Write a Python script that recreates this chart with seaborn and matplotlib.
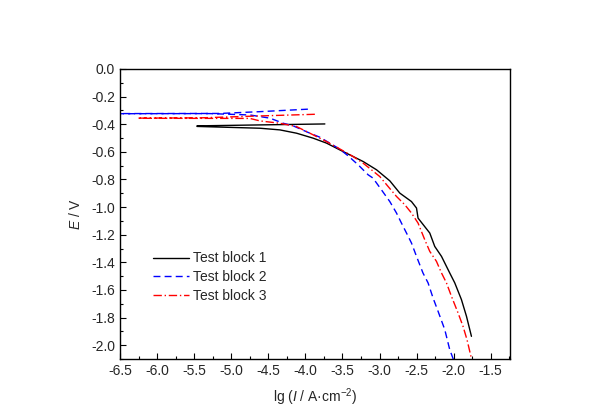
import numpy as np
import pandas as pd
import matplotlib
matplotlib.use("Agg")
import matplotlib.pyplot as plt
import seaborn as sns
from matplotlib.ticker import MultipleLocator

# Test block 1 (anodic branch right->left, then cathodic branch left->right)
tb1_x = [-3.737, -4.613, -5.462, -5.462, -4.613, -4.344, -4.119, -3.895, -3.714, -3.535,
         -3.400, -3.221, -3.040, -2.861, -2.726, -2.569, -2.501, -2.480, -2.322, -2.255,
         -2.164, -2.053, -1.985, -1.895, -1.827, -1.760]
tb1_y = [-0.398, -0.405, -0.412, -0.416, -0.429, -0.441, -0.465, -0.501, -0.537, -0.586,
         -0.622, -0.670, -0.730, -0.810, -0.899, -0.960, -1.007, -1.080, -1.188, -1.285,
         -1.357, -1.477, -1.549, -1.670, -1.791, -1.936]

# Test block 2
tb2_x = [-3.966, -4.613, -5.152, -6.600, -6.600, -5.287, -4.748, -4.478, -4.299, -4.164,
         -3.939, -3.805, -3.670, -3.535, -3.423, -3.288, -3.154, -3.088, -2.974, -2.861,
         -2.771, -2.704, -2.636, -2.569, -2.501, -2.414, -2.345, -2.278, -2.210, -2.120,
         -2.053, -2.008, -1.990]
tb2_y = [-0.291, -0.309, -0.322, -0.323, -0.324, -0.323, -0.333, -0.356, -0.393, -0.412,
         -0.465, -0.494, -0.537, -0.581, -0.629, -0.694, -0.766, -0.790, -0.875, -0.960,
         -1.043, -1.116, -1.188, -1.260, -1.357, -1.477, -1.549, -1.658, -1.755, -1.887,
         -2.032, -2.097, -2.120]

# Test block 3
tb3_x = [-3.872, -4.613, -5.422, -6.261, -6.261, -4.748, -4.613, -4.344, -4.119, -3.939,
         -3.714, -3.512, -3.356, -3.221, -3.109, -2.996, -2.884, -2.771, -2.659, -2.569,
         -2.480, -2.390, -2.322, -2.232, -2.164, -2.097, -2.030, -1.941, -1.874, -1.820,
         -1.760, -1.755]
tb3_y = [-0.328, -0.340, -0.354, -0.356, -0.357, -0.358, -0.376, -0.393, -0.417, -0.465,
         -0.526, -0.586, -0.634, -0.682, -0.730, -0.779, -0.851, -0.923, -0.983, -1.043,
         -1.116, -1.236, -1.321, -1.393, -1.477, -1.549, -1.646, -1.766, -1.863, -1.960,
         -2.097, -2.120]

labels = ["Test block 1", "Test block 2", "Test block 3"]
colors = ["black", "blue", "red"]
styles = ["-", (0, (5, 3)), (0, (6, 2, 1, 2))]

sns.set_theme(style="ticks")
plt.rcParams["font.family"] = ["Liberation Sans", "DejaVu Sans"]
plt.rcParams["mathtext.fontset"] = "custom"
plt.rcParams["mathtext.rm"] = "Liberation Sans"
plt.rcParams["mathtext.it"] = "Liberation Sans:italic"
plt.rcParams["axes.unicode_minus"] = False

fig = plt.figure(figsize=(6.0, 4.07), dpi=100)
ax = fig.add_axes([0.2, 0.118, 0.65, 0.7125])

for xs, ys, lab, c, ls in zip([tb1_x, tb2_x, tb3_x], [tb1_y, tb2_y, tb3_y], labels, colors, styles):
    df = pd.DataFrame({"x": xs, "y": ys, "i": np.arange(len(xs))})
    sns.lineplot(data=df, x="x", y="y", sort=False, estimator=None, ax=ax,
                 color=c, linestyle=ls, linewidth=1.0, label=lab)

ax.set_xlim(-6.5, -1.24)
ax.set_ylim(-2.1, 0.0)
ax.xaxis.set_major_locator(MultipleLocator(0.5))
ax.xaxis.set_minor_locator(MultipleLocator(0.25))
ax.yaxis.set_major_locator(MultipleLocator(0.2))
ax.yaxis.set_minor_locator(MultipleLocator(0.1))
ax.xaxis.set_major_formatter(matplotlib.ticker.FormatStrFormatter("%.1f"))
ax.yaxis.set_major_formatter(matplotlib.ticker.FormatStrFormatter("%.1f"))
ax.tick_params(which="both", direction="in", top=False, right=False, labelsize=10, color="black")
ax.tick_params(which="major", length=4, width=0.8)
ax.tick_params(which="minor", length=2.5, width=0.8)
for s in ax.spines.values():
    s.set_linewidth(1.0)
    s.set_color("black")
    s.set_visible(True)

ax.set_xlabel(r"lg ($\mathit{I}$ / A·cm$^{\mathrm{-2}}$)", fontsize=10, labelpad=6)
ax.set_ylabel(r"$\mathit{E}$ / V", fontsize=10, labelpad=6)

leg = ax.legend(loc="upper left", bbox_to_anchor=(0.07, 0.39), frameon=False, fontsize=10,
                handlelength=2.6, handletextpad=0.3, labelspacing=0.35, borderaxespad=0)

fig.savefig("out.png", dpi=100)
